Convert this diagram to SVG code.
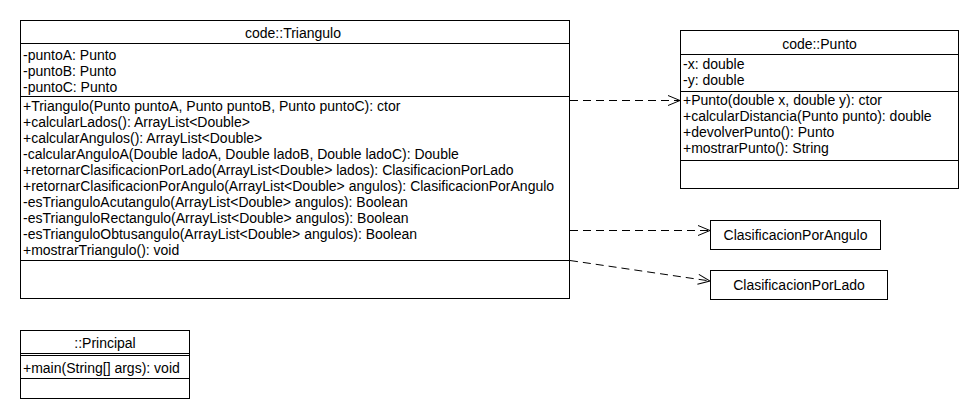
<svg xmlns="http://www.w3.org/2000/svg" width="980" height="420" viewBox="0 0 980 420">
<defs>
<style>
.box{fill:#fff;stroke:#000;stroke-width:1}
.sep{stroke:#000;stroke-width:1}
text{font-family:"Liberation Sans",Arial,sans-serif;font-size:14px;fill:#000}
.t{text-anchor:middle}
.dep{fill:none;stroke:#000;stroke-width:1;stroke-dasharray:8,5}
</style>
<marker id="open" markerWidth="14" markerHeight="12" refX="13" refY="6" orient="auto" markerUnits="userSpaceOnUse">
<path d="M1,1 L13,6 L1,11" fill="none" stroke="#000" stroke-width="1"/>
</marker>
</defs>
<rect width="980" height="420" fill="#fff"/>
<g id="connectors">
<line class="dep" x1="570" y1="100.5" x2="680" y2="100.5" marker-end="url(#open)"/>
<line class="dep" x1="570" y1="230.5" x2="710" y2="230.5" marker-end="url(#open)"/>
<line class="dep" x1="570" y1="260.5" x2="710" y2="281" marker-end="url(#open)"/>
</g>
<g id="Triangulo">
<rect class="box" x="20.5" y="20.5" width="549" height="278"/>
<line class="sep" x1="20.5" y1="43.5" x2="569.5" y2="43.5"/>
<line class="sep" x1="20.5" y1="96.5" x2="569.5" y2="96.5"/>
<line class="sep" x1="20.5" y1="260.5" x2="569.5" y2="260.5"/>
<text class="t" x="293" y="38">code::Triangulo</text>
<text x="23" y="60">-puntoA: Punto</text>
<text x="23" y="76">-puntoB: Punto</text>
<text x="23" y="92">-puntoC: Punto</text>
<text x="23" y="111">+Triangulo(Punto puntoA, Punto puntoB, Punto puntoC): ctor</text>
<text x="23" y="127">+calcularLados(): ArrayList&lt;Double&gt;</text>
<text x="23" y="143">+calcularAngulos(): ArrayList&lt;Double&gt;</text>
<text x="23" y="159">-calcularAnguloA(Double ladoA, Double ladoB, Double ladoC): Double</text>
<text x="23" y="175">+retornarClasificacionPorLado(ArrayList&lt;Double&gt; lados): ClasificacionPorLado</text>
<text x="23" y="191">+retornarClasificacionPorAngulo(ArrayList&lt;Double&gt; angulos): ClasificacionPorAngulo</text>
<text x="23" y="207">-esTrianguloAcutangulo(ArrayList&lt;Double&gt; angulos): Boolean</text>
<text x="23" y="223">-esTrianguloRectangulo(ArrayList&lt;Double&gt; angulos): Boolean</text>
<text x="23" y="239">-esTrianguloObtusangulo(ArrayList&lt;Double&gt; angulos): Boolean</text>
<text x="23" y="255">+mostrarTriangulo(): void</text>
</g>
<g id="Punto">
<rect class="box" x="680.5" y="30.5" width="278" height="158"/>
<line class="sep" x1="680.5" y1="54.5" x2="958.5" y2="54.5"/>
<line class="sep" x1="680.5" y1="91.5" x2="958.5" y2="91.5"/>
<line class="sep" x1="680.5" y1="160.5" x2="958.5" y2="160.5"/>
<text class="t" x="819.5" y="49">code::Punto</text>
<text x="683" y="69">-x: double</text>
<text x="683" y="85">-y: double</text>
<text x="683" y="105">+Punto(double x, double y): ctor</text>
<text x="683" y="121">+calcularDistancia(Punto punto): double</text>
<text x="683" y="137">+devolverPunto(): Punto</text>
<text x="683" y="153">+mostrarPunto(): String</text>
</g>
<g id="ClasificacionPorAngulo">
<rect class="box" x="710.5" y="220.5" width="170" height="29"/>
<text class="t" x="795.5" y="240">ClasificacionPorAngulo</text>
</g>
<g id="ClasificacionPorLado">
<rect class="box" x="710.5" y="270.5" width="177" height="29"/>
<text class="t" x="799" y="290">ClasificacionPorLado</text>
</g>
<g id="Principal">
<rect class="box" x="20.5" y="330.5" width="169" height="68"/>
<line class="sep" x1="20.5" y1="353.5" x2="189.5" y2="353.5"/>
<line class="sep" x1="20.5" y1="355.5" x2="189.5" y2="355.5"/>
<line class="sep" x1="20.5" y1="378.5" x2="189.5" y2="378.5"/>
<text class="t" x="105" y="348">::Principal</text>
<text x="23" y="373">+main(String[] args): void</text>
</g>
</svg>
